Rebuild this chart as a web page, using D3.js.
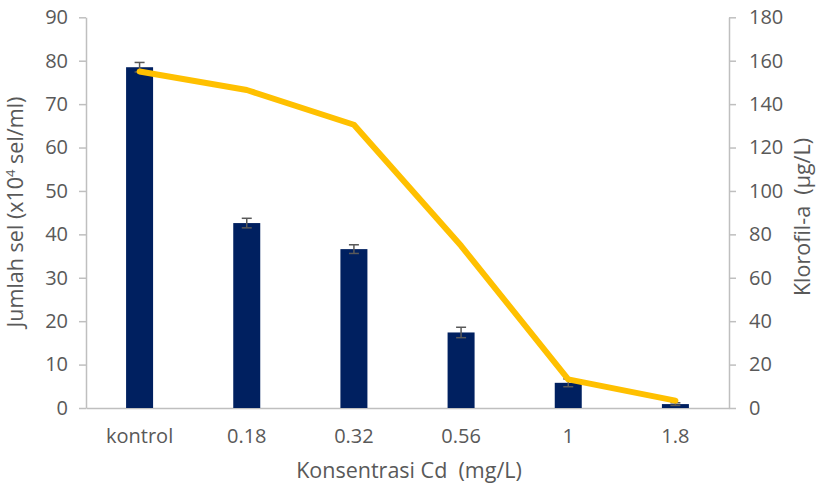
<!DOCTYPE html>
<html><head><meta charset="utf-8">
<script src="https://cdn.jsdelivr.net/npm/d3@7/dist/d3.min.js"></script>
<style>body{margin:0;background:#fff}svg text{font-family:"Open Sans",sans-serif;fill:#595959}</style>
</head><body><svg id="c" width="820" height="485"></svg>
<script>
const categories = ["kontrol","0.18","0.32","0.56","1","1.8"];
const cellCount = [78.5, 42.6, 36.6, 17.4, 5.8, 0.9];
const cellErr = [1.1, 1.1, 1.0, 1.2, 0.9, 0.3];
const chlorophyll = [155, 146.5, 130.5, 74.7, 13.2, 3.4];
const leftTicks = [0,10,20,30,40,50,60,70,80,90];
const rightTicks = [0,20,40,60,80,100,120,140,160,180];

const svg = d3.select("#c");
const L = 86, R = 729, T = 17.3, B = 408;
const x = d3.scaleBand().domain(categories).range([L, R]);
const yL = d3.scaleLinear().domain([0, 90]).range([B, T]);
const yR = d3.scaleLinear().domain([0, 180]).range([B, T]);
const axisColor = "#BFBFBF";
const tickFont = 20, titleFont = 21.5;

const gl = svg.append("g").attr("transform", `translate(${L},0)`)
  .call(d3.axisLeft(yL).tickValues(leftTicks).tickSize(7).tickPadding(11).tickSizeOuter(0));
const gr = svg.append("g").attr("transform", `translate(${R},0)`)
  .call(d3.axisRight(yR).tickValues(rightTicks).tickSize(7).tickPadding(13).tickSizeOuter(0));
const gb = svg.append("g").attr("transform", `translate(0,${B})`)
  .call(d3.axisBottom(x).tickSize(0).tickPadding(21).tickSizeOuter(0));
[gl, gr, gb].forEach(g => {
  g.selectAll("path,line").attr("stroke", axisColor).attr("stroke-width", 1.5);
  g.selectAll("text").attr("font-size", tickFont).attr("fill", "#595959").style("font-family", '"Open Sans",sans-serif');
});

const bw = 27;
svg.append("g").selectAll("rect").data(categories).join("rect")
  .attr("x", (d) => x(d) + x.bandwidth()/2 - bw/2)
  .attr("y", (d,i) => yL(cellCount[i]))
  .attr("width", bw)
  .attr("height", (d,i) => B - yL(cellCount[i]))
  .attr("fill", "#002060");

const eg = svg.append("g").attr("stroke", "#595959").attr("stroke-width", 1.5);
categories.forEach((c,i) => {
  const cx = x(c) + x.bandwidth()/2;
  const y1 = yL(cellCount[i] + cellErr[i]), y2 = yL(cellCount[i] - cellErr[i]);
  eg.append("line").attr("x1", cx).attr("x2", cx).attr("y1", y1).attr("y2", y2);
  eg.append("line").attr("x1", cx-5).attr("x2", cx+5).attr("y1", y1).attr("y2", y1);
  eg.append("line").attr("x1", cx-5).attr("x2", cx+5).attr("y1", y2).attr("y2", y2);
});

const line = d3.line().x((d,i) => x(categories[i]) + x.bandwidth()/2).y(d => yR(d));
svg.append("path").datum(chlorophyll).attr("d", line)
  .attr("fill", "none").attr("stroke", "#FFC000").attr("stroke-width", 6)
  .attr("stroke-linejoin", "round").attr("stroke-linecap", "round");

svg.append("text").attr("x", 409).attr("y", 478).attr("text-anchor", "middle")
  .attr("font-size", titleFont).attr("xml:space","preserve").text("Konsentrasi Cd  (mg/L)");
const lt = svg.append("text").attr("transform", "translate(23,212) rotate(-90)")
  .attr("text-anchor", "middle").attr("font-size", titleFont);
lt.append("tspan").text("Jumlah sel (x10");
lt.append("tspan").attr("font-size", 13).attr("dy", -8).text("4");
lt.append("tspan").attr("dy", 8).text(" sel/ml)");
svg.append("text").attr("transform", "translate(810,217) rotate(-90)")
  .attr("text-anchor", "middle").attr("font-size", titleFont).attr("xml:space","preserve")
  .text("Klorofil-a  (µg/L)");
</script></body></html>
